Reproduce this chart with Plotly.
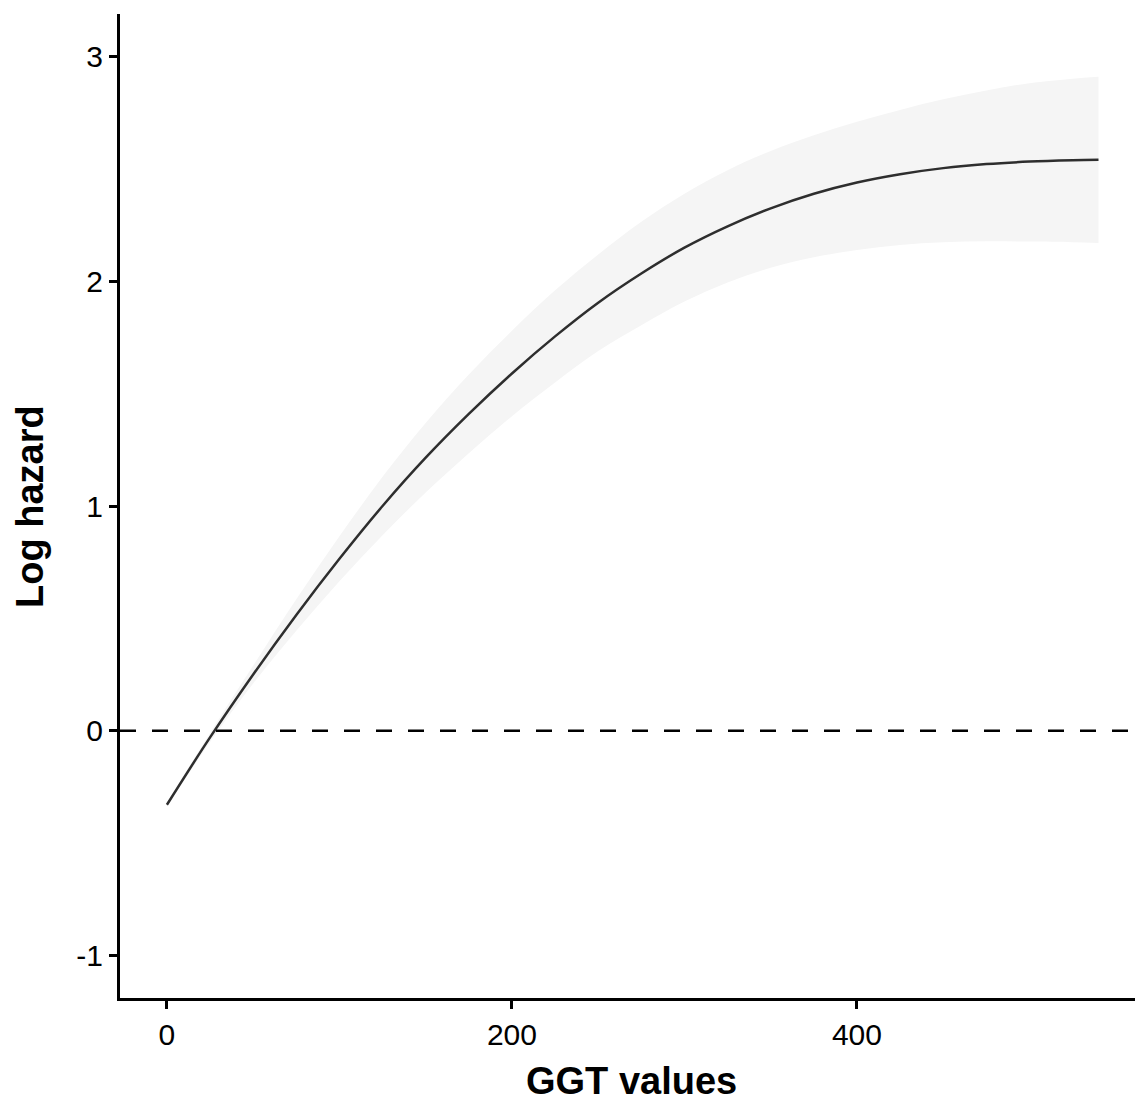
import plotly.graph_objects as go

ggt = [0, 25, 50, 75, 100, 125, 150, 175, 200, 225, 250, 275, 300, 325, 350, 375, 400, 425, 450, 475, 500, 525, 540]
log_hazard = [-0.33, -0.03, 0.25, 0.515, 0.765, 1.00, 1.215, 1.41, 1.59, 1.755, 1.905, 2.035, 2.15, 2.245, 2.325, 2.39, 2.44, 2.477, 2.504, 2.522, 2.533, 2.539, 2.541]
upper = [-0.32, -0.01, 0.29, 0.585, 0.865, 1.13, 1.37, 1.585, 1.78, 1.96, 2.12, 2.265, 2.39, 2.495, 2.58, 2.65, 2.71, 2.763, 2.81, 2.85, 2.882, 2.902, 2.911]
lower = [-0.34, -0.05, 0.21, 0.445, 0.665, 0.87, 1.06, 1.235, 1.40, 1.55, 1.69, 1.805, 1.91, 1.995, 2.06, 2.107, 2.14, 2.162, 2.174, 2.178, 2.177, 2.174, 2.171]

x_ticks = [0, 200, 400]
y_ticks = [-1, 0, 1, 2, 3]
y_tick_labels = ["-1", "0", "1", "2", "3"]
x_title = "GGT values"
y_title = "Log hazard"

fig = go.Figure()
fig.add_trace(go.Scatter(x=ggt, y=upper, mode="lines", line=dict(width=0, shape="spline"),
                         showlegend=False, hoverinfo="skip"))
fig.add_trace(go.Scatter(x=ggt, y=lower, mode="lines", line=dict(width=0, shape="spline"),
                         fill="tonexty", fillcolor="#f5f5f5", showlegend=False, hoverinfo="skip"))
fig.add_shape(type="line", xref="paper", yref="y", x0=0, x1=1, y0=0, y1=0,
              line=dict(color="black", width=2.5, dash="16px,16px"))
fig.add_trace(go.Scatter(x=ggt, y=log_hazard, mode="lines",
                         line=dict(color="#2e2e2e", width=2.5, shape="spline"),
                         showlegend=False))

font_family = "Liberation Sans, Arial, Helvetica, sans-serif"
fig.update_layout(
    width=1135, height=1096,
    margin=dict(l=112, r=0, t=6, b=106),
    paper_bgcolor="white", plot_bgcolor="white",
    font=dict(family=font_family, color="black", size=30),
    xaxis=dict(range=[-27.2, 565.8], tickvals=x_ticks, showgrid=False, zeroline=False,
               showline=True, linecolor="black", linewidth=3, ticks="outside", ticklen=8,
               tickwidth=2.5, tickcolor="black", tickfont=dict(size=30, color="black"),
               automargin=False),
    yaxis=dict(range=[-1.19, 3.19], tickvals=y_ticks, ticktext=y_tick_labels, showgrid=False,
               zeroline=False, showline=True, linecolor="black", linewidth=3, ticks="outside",
               ticklen=8, tickwidth=2.5, tickcolor="black", tickfont=dict(size=30, color="black"),
               automargin=False),
    annotations=[
        dict(text="<b>" + x_title + "</b>", xref="paper", yref="paper", x=0.5, y=-0.1077,
             xanchor="center", yanchor="bottom", showarrow=False, font=dict(size=38, color="black")),
        dict(text="<b>" + y_title + "</b>", xref="paper", yref="paper", x=-0.088, y=0.5,
             xanchor="center", yanchor="middle", textangle=-90, showarrow=False,
             font=dict(size=38, color="black")),
    ],
)
fig.write_html("out.html")
